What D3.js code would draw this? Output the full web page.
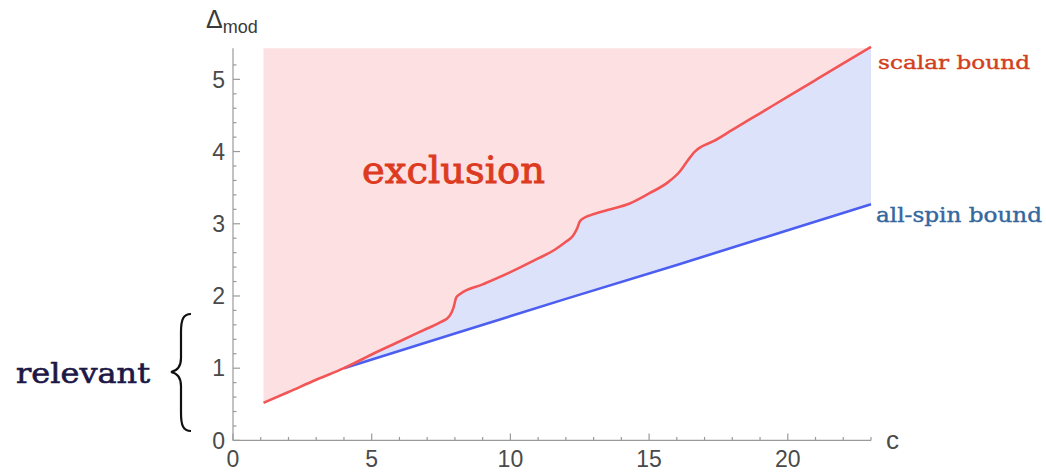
<!DOCTYPE html>
<html>
<head>
<meta charset="utf-8">
<script src="https://cdn.jsdelivr.net/npm/d3@7"></script>
<style>
  body { margin: 0; background: #fff; }
  svg { display: block; }
</style>
</head>
<body>
<div id="chart"></div>
<script>
// scalar bound (upper edge of exclusion region)
let scalarC = [1.1, 2, 3, 4, 5, 6, 7, 7.5, 7.8, 7.95, 8.05, 8.2, 9, 10, 11, 11.6, 12.0, 12.25, 12.4, 12.5, 12.65, 12.9, 13.5, 14.3, 15, 15.7, 16.1, 16.4, 16.65, 16.9, 17.3, 18, 19, 20, 21, 22, 23];
let scalarD = [0.52, 0.67, 0.84, 1.0, 1.19, 1.37, 1.55, 1.64, 1.72, 1.84, 1.98, 2.03, 2.16, 2.33, 2.52, 2.64, 2.75, 2.83, 2.93, 3.03, 3.08, 3.12, 3.19, 3.28, 3.42, 3.58, 3.72, 3.88, 4.0, 4.07, 4.14, 4.3, 4.53, 4.76, 4.99, 5.22, 5.45];

// all-spin bound
let spinC = [4, 8, 12, 16, 20, 23];
let spinD = [1.0, 1.48, 1.96, 2.43, 2.91, 3.27];

let xTickValues = [0, 5, 10, 15, 20];
let yTickValues = [0, 1, 2, 3, 4, 5];
let topD = 5.43;

let W = 1046, H = 473;
let svg = d3.select("#chart").append("svg")
    .attr("width", W)
    .attr("height", H);

let x = d3.scaleLinear().domain([0, 23]).range([233, 871]);
let y = d3.scaleLinear().domain([0, 5.43]).range([440.4, 48.3]);

let scalar = scalarC.map((c, i) => [c, scalarD[i]]);
let spin = spinC.map((c, i) => [c, spinD[i]]);

// pink exclusion area
svg.append("path")
    .attr("fill", "#fde1e2")
    .attr("d", d3.area()
          .x(d => x(d[0]))
          .y0(d => y(d[1]))
          .y1(y(topD))
          .curve(d3.curveMonotoneX)(scalar));

// blue area between the two bounds
let upper = scalar.filter(d => d[0] >= 4);
svg.append("path")
    .attr("fill", "#dde2fb")
    .attr("d", d3.line().x(d => x(d[0])).y(d => y(d[1])).curve(d3.curveMonotoneX)(upper)
          + "L" + spin.slice().reverse().map(d => x(d[0]) + "," + y(d[1])).join("L") + "Z");

// all-spin line
svg.append("path")
    .attr("fill", "none")
    .attr("stroke", "#4b5ef0")
    .attr("stroke-width", 2.6)
    .attr("d", d3.line().x(d => x(d[0])).y(d => y(d[1]))(spin));

// scalar line
svg.append("path")
    .attr("fill", "none")
    .attr("stroke", "#f25556")
    .attr("stroke-width", 2.6)
    .attr("d", d3.line().x(d => x(d[0])).y(d => y(d[1])).curve(d3.curveMonotoneX)(scalar));

// axes
let axisCol = "#9a9a9a";
let g = svg.append("g").attr("stroke", axisCol).attr("stroke-width", 1.2);
g.append("line").attr("x1", x(0)).attr("x2", x(23)).attr("y1", y(0)).attr("y2", y(0));
g.append("line").attr("x1", x(0)).attr("x2", x(0)).attr("y1", y(0)).attr("y2", y(topD));

d3.range(0, 24, 1).forEach(v => {
    let major = v % 5 == 0;
    g.append("line")
        .attr("x1", x(v)).attr("x2", x(v))
        .attr("y1", y(0)).attr("y2", y(0) - (major ? 7 : 3.5));
});
d3.range(0, 27, 1).map(v => v / 5).forEach(v => {
    let major = Math.abs(v - Math.round(v)) < 1e-6;
    g.append("line")
        .attr("x1", x(0)).attr("x2", x(0) + (major ? 7 : 3.5))
        .attr("y1", y(v)).attr("y2", y(v));
});

let sans = "'Liberation Sans', Arial, sans-serif";
svg.selectAll(".xlab").data(xTickValues).enter().append("text")
    .attr("class", "xlab")
    .attr("x", d => x(d))
    .attr("y", 467)
    .attr("text-anchor", "middle")
    .attr("font-family", sans).attr("font-size", 23).attr("fill", "#4a4a4a")
    .text(d => d);

svg.selectAll(".ylab").data(yTickValues).enter().append("text")
    .attr("class", "ylab")
    .attr("x", 225)
    .attr("y", d => y(d))
    .attr("dy", "0.36em")
    .attr("text-anchor", "end")
    .attr("font-family", sans).attr("font-size", 23).attr("fill", "#4a4a4a")
    .text(d => d);

svg.append("text")
    .attr("x", 886).attr("y", 449)
    .attr("font-family", sans).attr("font-size", 26).attr("fill", "#4a4a4a")
    .text("c");

let ylab = svg.append("text")
    .attr("x", 206).attr("y", 28)
    .attr("font-family", sans).attr("fill", "#3a3a3a");
ylab.append("tspan").attr("font-size", 25).text("Δ");
ylab.append("tspan").attr("font-size", 18).attr("dy", 5).text("mod");

// annotations (typewriter-like slab serif, slightly heavier)
let serif = "'DejaVu Serif', serif";
let note = function(tx, ty, size, col, len, str, sw){
    svg.append("text")
        .attr("x", tx).attr("y", ty)
        .attr("font-family", serif).attr("font-size", size)
        .attr("fill", col).attr("stroke", col).attr("stroke-width", sw)
        .attr("textLength", len).attr("lengthAdjust", "spacingAndGlyphs")
        .text(str);
};
note(362, 183, 38, "#dc3b22", 183, "exclusion", 0.9);
note(878, 69, 19, "#d2401e", 152, "scalar bound", 0.4);
note(876, 222, 20, "#33679e", 166, "all-spin bound", 0.4);
note(16, 383, 27, "#1d1746", 134, "relevant", 0.6);

// curly brace
let bx = 181, bTop = 314, bBot = 431, bMid = 372;
svg.append("path")
    .attr("fill", "none")
    .attr("stroke", "#111")
    .attr("stroke-width", 2.2)
    .attr("d", "M" + (bx + 10) + "," + bTop
          + "C" + (bx + 2) + "," + bTop + " " + bx + "," + (bTop + 6) + " " + bx + "," + (bTop + 18)
          + "L" + bx + "," + (bMid - 14)
          + "C" + bx + "," + (bMid - 5) + " " + (bx - 5) + "," + (bMid - 1) + " " + (bx - 10) + "," + bMid
          + "C" + (bx - 5) + "," + (bMid + 1) + " " + bx + "," + (bMid + 5) + " " + bx + "," + (bMid + 14)
          + "L" + bx + "," + (bBot - 18)
          + "C" + bx + "," + (bBot - 6) + " " + (bx + 2) + "," + bBot + " " + (bx + 10) + "," + bBot);
</script>
</body>
</html>
